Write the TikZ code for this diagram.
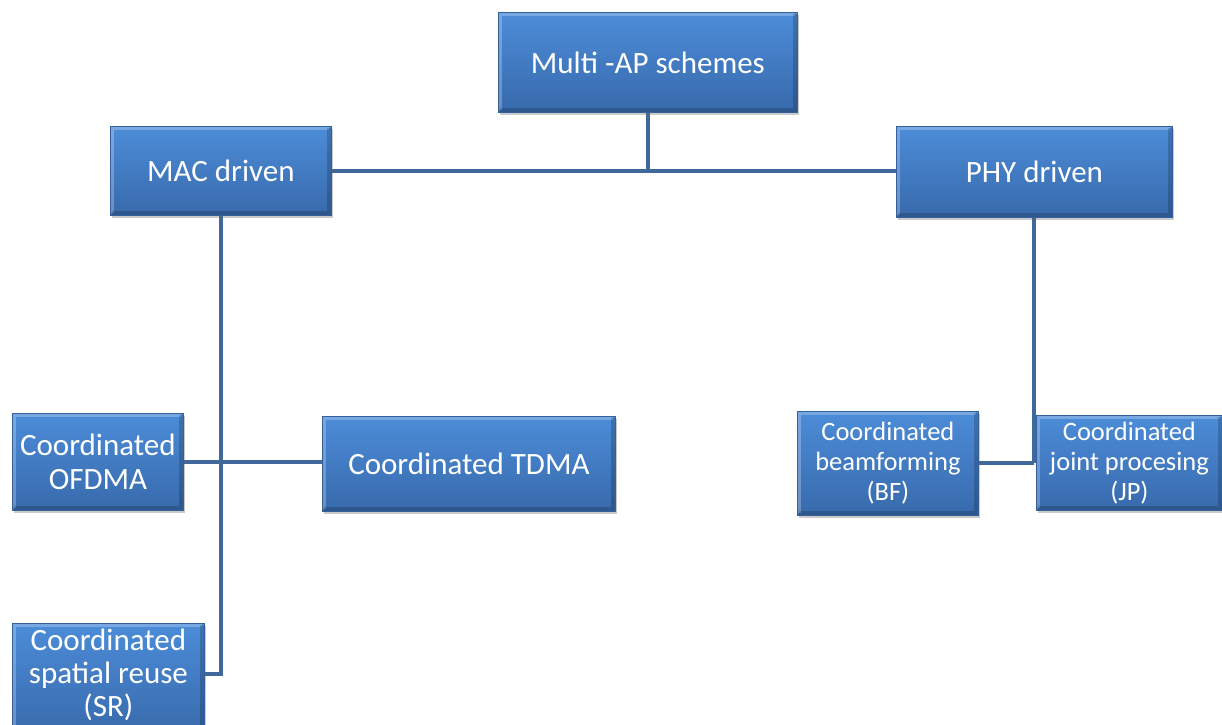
\documentclass[tikz,border=0pt]{standalone}
\usepackage{fontspec}
\setmainfont{Carlito}
\usetikzlibrary{shadows,backgrounds}
\definecolor{boxtop}{RGB}{76,140,216}
\definecolor{boxbot}{RGB}{56,106,172}
\definecolor{boxedge}{RGB}{52,96,158}
\definecolor{linkc}{RGB}{65,104,154}
\tikzset{
  blockbox/.style={rectangle, anchor=north west, inner sep=0pt, align=center,
    text=white, top color=boxtop, bottom color=boxbot, draw=boxedge, line width=0.8pt,
    drop shadow={opacity=0.35, shadow xshift=2pt, shadow yshift=-3pt, fill=black!60},
    path picture={
      \draw[white, opacity=0.25, line width=4pt]
        ([xshift=2pt,yshift=2pt]path picture bounding box.south west) |-
        ([xshift=-2pt,yshift=-2pt]path picture bounding box.north east);
      \draw[black, opacity=0.18, line width=4pt]
        ([xshift=2pt,yshift=2pt]path picture bounding box.south west) -|
        ([xshift=-2pt,yshift=-2pt]path picture bounding box.north east);
    },
    font=\fontsize{31}{34}\selectfont},
  smallbox/.style={blockbox, font=\fontsize{26.5}{30}\selectfont},
  link/.style={draw=linkc, line width=4pt}
}
\begin{document}
\begin{tikzpicture}[x=1pt,y=-1pt]
\useasboundingbox (0,0) rectangle (1222,724);
\clip (0,0) rectangle (1222,724);
\node[blockbox, minimum width=299pt, minimum height=100pt] (map) at (498,12) {Multi -AP schemes};
\node[blockbox, minimum width=221pt, minimum height=89pt] (mac) at (110,126) {MAC driven};
\node[blockbox, minimum width=276pt, minimum height=91pt] (phy) at (896,126) {PHY driven};
\node[blockbox, minimum width=171pt, minimum height=97pt] (ofdma) at (12,413) {Coordinated\\OFDMA};
\node[blockbox, minimum width=293pt, minimum height=95pt] (tdma) at (322,416) {Coordinated TDMA};
\node[blockbox, minimum width=192pt, minimum height=112pt, font=\fontsize{31}{33}\selectfont] (sr) at (12,623) {Coordinated\\spatial reuse\\(SR)\rule[-14pt]{0pt}{1pt}};
\node[smallbox, minimum width=181pt, minimum height=104pt] (bf) at (797,411) {Coordinated\\beamforming\\(BF)};
\node[smallbox, minimum width=186pt, minimum height=95pt] (jp) at (1036,415) {Coordinated\\joint procesing\\(JP)};
\coordinate (srlink) at (204,674);
\begin{pgfonlayer}{background}
\draw[link] (map.south) -- (map.south |- mac.east);
\draw[link] (mac.east) -- (mac.east -| phy.west);
\draw[link] (mac.south) |- (srlink);
\draw[link] (ofdma.east) -- (ofdma.east -| tdma.west);
\draw[link] (phy.south) -- (phy.south |- bf.east);
\draw[link] (bf.east) -- (bf.east -| phy.south);
\end{pgfonlayer}
\end{tikzpicture}
\end{document}
